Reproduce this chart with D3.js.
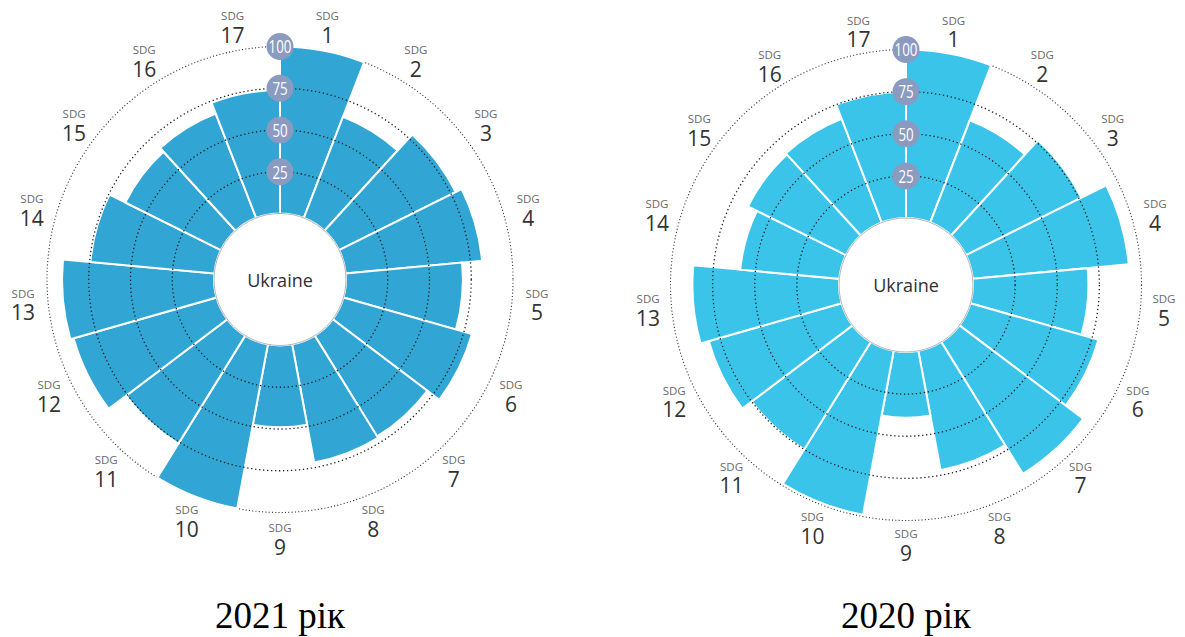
<!DOCTYPE html>
<html>
<head>
<meta charset="utf-8">
<script src="https://cdn.jsdelivr.net/npm/d3@7"></script>
<style>
  html, body { margin: 0; padding: 0; background: #fff; }
  svg { display: block; }
</style>
</head>
<body>
<svg id="chart" width="1185" height="637"></svg>
<script>
// ---- data ----
const categories = ["1","2","3","4","5","6","7","8","9","10","11","12","13","14","15","16","17"];
const values2021 = [100, 65, 78, 82, 70, 80, 71, 72, 49, 100, 76, 89, 91, 74.5, 64, 67, 74];
const values2020 = [100, 65, 76.5, 93, 68.5, 79, 92, 72, 39, 99, 75, 82, 87, 59, 65, 66, 75];
const tickValues = [25, 50, 75, 100];
const titles = ["2021 рік", "2020 рік"];
const centerLabel = "Ukraine";
const labelPrefix = "SDG";

// ---- layout ----
const panels = [
  { values: values2021, title: titles[0], cx: 280, cy: 279.5, inner: 66, outer: 233, color: "#31a5d3", labelR: 258, titleY: 628 },
  { values: values2020, title: titles[1], cx: 906, cy: 285, inner: 67, outer: 235.5, color: "#3bc4e9", labelR: 259, titleY: 628 }
];

const svg = d3.select("#chart");
const font = "'Open Sans', 'Noto Sans', sans-serif";

panels.forEach(p => {
  const g = svg.append("g").attr("transform", `translate(${p.cx},${p.cy})`);
  const x = d3.scaleBand().domain(categories).range([0, 2 * Math.PI]).padding(0);
  const y = d3.scaleLinear().domain([0, 100]).range([p.inner, p.outer]);
  const data = categories.map((c, i) => ({ c, v: p.values[i] }));

  // outer 100 circle (dotted)
  g.append("circle")
    .attr("r", y(100))
    .attr("fill", "none")
    .attr("stroke", "#3a3a3a")
    .attr("stroke-width", 1.1)
    .attr("stroke-dasharray", "1.1,2.2");

  // bars
  const arc = d3.arc()
    .innerRadius(y(0))
    .outerRadius(d => y(d.v))
    .startAngle(d => x(d.c))
    .endAngle(d => x(d.c) + x.bandwidth());

  g.selectAll("path.bar").data(data).enter().append("path")
    .attr("class", "bar")
    .attr("d", arc)
    .attr("fill", p.color)
    .attr("stroke", "#fff")
    .attr("stroke-width", 2)
    .attr("stroke-linejoin", "miter");

  // inner dotted grid circles
  g.selectAll("circle.grid").data(tickValues.filter(t => t < 100)).enter().append("circle")
    .attr("class", "grid")
    .attr("r", d => y(d))
    .attr("fill", "none")
    .attr("stroke", "#1f1f1f")
    .attr("stroke-width", 1.3)
    .attr("stroke-dasharray", "1.3,2.7");

  // white center disc
  g.append("circle")
    .attr("r", y(0))
    .attr("fill", "#fff")
    .attr("stroke", "#b5b5b5")
    .attr("stroke-width", 1);

  g.append("text")
    .attr("x", 0).attr("y", 0)
    .attr("text-anchor", "middle")
    .attr("dominant-baseline", "central")
    .attr("font-family", font)
    .attr("font-size", 18)
    .attr("fill", "#2f2f35")
    .text(centerLabel);

  // tick bubbles
  const tk = g.selectAll("g.tick").data(tickValues).enter().append("g")
    .attr("class", "tick")
    .attr("transform", d => `translate(0,${-y(d)})`);
  tk.append("circle").attr("r", 13.5).attr("fill", "#8a9bbf");
  tk.append("text")
    .attr("text-anchor", "middle")
    .attr("dominant-baseline", "central")
    .attr("transform", "scale(0.74,1)")
    .attr("font-family", font)
    .attr("font-size", 18)
    .attr("fill", "#fff")
    .text(d => d);

  // category labels
  const lab = g.selectAll("g.lab").data(data).enter().append("g")
    .attr("class", "lab")
    .attr("transform", d => {
      const a = x(d.c) + x.bandwidth() / 2;
      return `translate(${p.labelR * Math.sin(a)},${-p.labelR * Math.cos(a)})`;
    });
  lab.append("text")
    .attr("y", -10.3)
    .attr("text-anchor", "middle")
    .attr("dominant-baseline", "central")
    .attr("font-family", font)
    .attr("font-size", 11.5)
    .attr("fill", "#6a6a6a")
    .text(labelPrefix);
  lab.append("text")
    .attr("y", 9)
    .attr("text-anchor", "middle")
    .attr("dominant-baseline", "central")
    .attr("font-family", font)
    .attr("font-size", 21)
    .attr("fill", "#333")
    .text(d => d.c);

  // title
  svg.append("text")
    .attr("x", p.cx)
    .attr("y", p.titleY)
    .attr("text-anchor", "middle")
    .attr("font-family", "'Liberation Serif', 'Times New Roman', serif")
    .attr("font-size", 37)
    .attr("fill", "#000")
    .text(p.title);
});
</script>
</body>
</html>
